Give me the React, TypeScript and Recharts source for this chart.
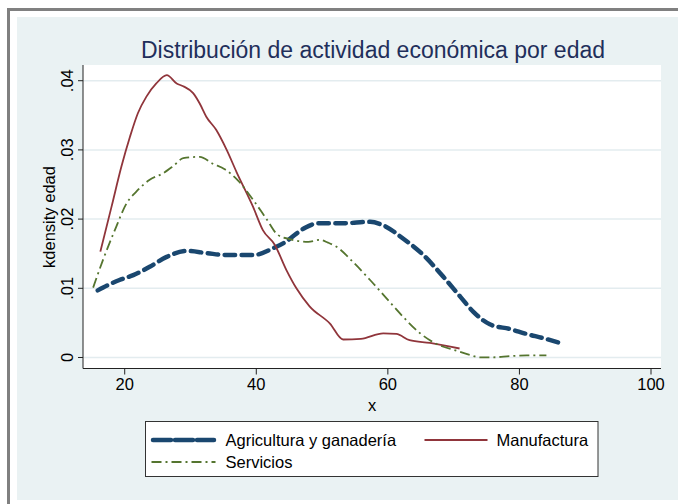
import React from "react";
import { LineChart, Line, XAxis, YAxis, CartesianGrid } from "recharts";

const chartTitle = "Distribución de actividad económica por edad";
const xTitle = "x";
const yTitle = "kdensity edad";
const xTicks = [20, 40, 60, 80, 100];
const yTicks = [0, 0.01, 0.02, 0.03, 0.04];

const agriAge = [15.9, 19.2, 21.3, 23.8, 26.3, 29.4, 32.4, 35.4, 39.5, 42.6, 44.6, 46.1, 47.5, 49.5, 53.2, 57.3, 59.3, 62.3, 65.4, 68.4, 71.0, 73.0, 75.5, 78.6, 81.1, 83.6, 86.2];
const agriDensity = [0.0097, 0.0112, 0.0119, 0.0131, 0.0145, 0.0154, 0.0151, 0.0148, 0.0148, 0.0158, 0.0168, 0.0179, 0.0188, 0.0194, 0.0194, 0.0196, 0.0191, 0.0172, 0.0148, 0.0117, 0.0088, 0.0066, 0.0048, 0.0041, 0.0034, 0.0028, 0.0021];

const manuAge = [16.3, 18.0, 19.5, 20.8, 22.0, 23.3, 24.8, 26.4, 27.9, 28.9, 30.4, 31.4, 32.4, 33.9, 35.5, 37.0, 39.5, 41.0, 42.8, 44.6, 46.1, 48.1, 51.2, 53.2, 55.9, 59.3, 61.3, 63.3, 66.4, 70.9];
const manuDensity = [0.0153, 0.0218, 0.0276, 0.0319, 0.0353, 0.0377, 0.0396, 0.0408, 0.0396, 0.0392, 0.0382, 0.0367, 0.0348, 0.0329, 0.0300, 0.0268, 0.0218, 0.0184, 0.0163, 0.0126, 0.0100, 0.0074, 0.0049, 0.0026, 0.0027, 0.0035, 0.0034, 0.0025, 0.0021, 0.0013];

const servAge = [15.2, 16.7, 18.5, 20.3, 21.8, 23.8, 25.8, 27.3, 28.9, 31.4, 33.4, 35.2, 37.2, 39.5, 41.5, 43.3, 45.1, 47.9, 49.7, 50.9, 52.2, 54.7, 57.3, 59.8, 62.3, 64.9, 67.4, 70.4, 72.5, 74.0, 76.0, 78.6, 81.1, 84.1];
const servDensity = [0.0101, 0.0141, 0.0184, 0.0223, 0.024, 0.0257, 0.0266, 0.0276, 0.0288, 0.029, 0.028, 0.0272, 0.0256, 0.0228, 0.0201, 0.0177, 0.0171, 0.0167, 0.0170, 0.0166, 0.0160, 0.0138, 0.0112, 0.00855, 0.0059, 0.0035, 0.00195, 0.00098, 0.00036, 0.00003, 0.00003, 0.0002, 0.0003, 0.0003];

const zip = (xs: number[], ys: number[]) => xs.map((x, i) => ({ x, y: ys[i] }));

const series = [
  { name: "Agricultura y ganadería", data: zip(agriAge, agriDensity), color: "#1A476F", width: 4.5, dash: "10.5 6.5", cap: "round" },
  { name: "Manufactura", data: zip(manuAge, manuDensity), color: "#90353B", width: 1.8, dash: undefined, cap: "butt" },
  { name: "Servicios", data: zip(servAge, servDensity), color: "#55752F", width: 1.8, dash: "10 4 2 4", cap: "butt" },
];

const FONT = "'Liberation Sans', Arial, sans-serif";
const W = 678;
const H = 504;

const fmtY = (v: number) => (v === 0 ? "0" : "." + String(Math.round(v * 100)).padStart(2, "0"));

const XTick = (props: any) => {
  const { x, y, payload } = props;
  return (
    <text x={x} y={y + 7} textAnchor="middle" dominantBaseline="central" fontFamily={FONT} fontSize={16.5} fill="#000">
      {payload.value}
    </text>
  );
};

const YTick = (props: any) => {
  const { x, y, payload } = props;
  const cx = x - 9;
  return (
    <text x={cx} y={y} transform={`rotate(-90, ${cx}, ${y})`} textAnchor="middle" dominantBaseline="central" fontFamily={FONT} fontSize={16.5} fill="#000">
      {fmtY(payload.value)}
    </text>
  );
};

const legendLayout = [
  { sx: 153, ex: 214, tx: 225.5, cy: 440 },
  { sx: 424.5, ex: 487.5, tx: 496.5, cy: 440 },
  { sx: 151.5, ex: 215.5, tx: 225.5, cy: 462 },
];

export default function App() {
  return (
    <div style={{ position: "absolute", left: 0, top: 0, width: W, height: H, background: "#fff" }}>
      <svg width={W} height={H} style={{ position: "absolute", left: 0, top: 0 }}>
        <rect x={0} y={0} width={W} height={H} fill="#fff" />
        <rect x={7} y={8} width={W - 7} height={3} fill="#808080" />
        <rect x={7} y={8} width={3} height={H - 8} fill="#808080" />
        <rect x={17} y={17} width={W - 17} height={483} fill="#EAF2F3" />
      </svg>
      <div style={{ position: "absolute", left: 0, top: 0 }}>
        <LineChart width={W} height={H} margin={{ top: 65, right: 17, bottom: 105.5, left: 0 }}>
          <CartesianGrid vertical={false} horizontal={true} stroke="#E3ECEF" strokeWidth={1.5} fill="#fff" horizontalValues={yTicks} />
          <XAxis
            type="number"
            dataKey="x"
            domain={[13.66, 101.52]}
            ticks={xTicks}
            allowDataOverflow
            height={30}
            tickSize={6}
            tick={<XTick />}
            stroke="#222"
            tickLine={{ stroke: "#222" }}
            axisLine={{ stroke: "#222" }}
          />
          <YAxis
            type="number"
            dataKey="y"
            domain={[-0.00159, 0.04227]}
            ticks={yTicks}
            allowDataOverflow
            width={83}
            tickSize={5}
            tick={<YTick />}
            stroke="#222"
            tickLine={{ stroke: "#222" }}
            axisLine={{ stroke: "#222" }}
          />
          {series.map((s) => (
            <Line
              key={s.name}
              data={s.data}
              dataKey="y"
              name={s.name}
              type="monotone"
              stroke={s.color}
              strokeWidth={s.width}
              strokeDasharray={s.dash}
              strokeLinecap={s.cap as any}
              dot={false}
              activeDot={false}
              isAnimationActive={false}
            />
          ))}
        </LineChart>
      </div>
      <svg width={W} height={H} style={{ position: "absolute", left: 0, top: 0, pointerEvents: "none" }}>
        <text x={373} y={50} textAnchor="middle" dominantBaseline="central" fontFamily={FONT} fontSize={23} fill="#1F2F5B">
          {chartTitle}
        </text>
        <text x={48.5} y={217} transform="rotate(-90, 48.5, 217)" textAnchor="middle" dominantBaseline="central" fontFamily={FONT} fontSize={16.5} fill="#000">
          {yTitle}
        </text>
        <text x={372} y={405} textAnchor="middle" dominantBaseline="central" fontFamily={FONT} fontSize={16.5} fill="#000">
          {xTitle}
        </text>
        <rect x={145.5} y={421.5} width={452.5} height={55} fill="#fff" stroke="#333" strokeWidth={1} />
        {series.map((s, i) => {
          const l = legendLayout[i];
          return (
            <g key={s.name}>
              <line x1={l.sx} y1={l.cy} x2={l.ex} y2={l.cy} stroke={s.color} strokeWidth={s.width} strokeDasharray={i === 0 ? "18 4" : s.dash} strokeLinecap={s.cap as any} />
              <text x={l.tx} y={l.cy} dominantBaseline="central" fontFamily={FONT} fontSize={16.5} fill="#000">
                {s.name}
              </text>
            </g>
          );
        })}
      </svg>
    </div>
  );
}
